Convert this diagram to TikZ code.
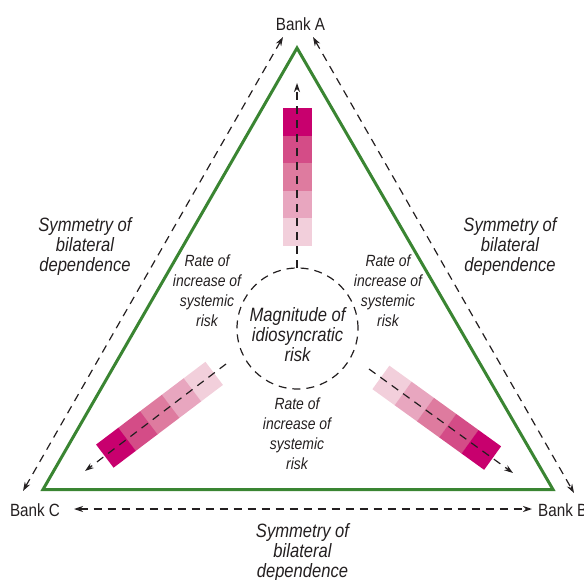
\documentclass[tikz,border=0pt]{standalone}
\usepackage{fontspec}
\setmainfont{Liberation Sans}[FakeStretch=0.86]
\usetikzlibrary{arrows.meta}
\definecolor{tri}{HTML}{3A8532}
\definecolor{ink}{HTML}{231F20}
\definecolor{cA}{HTML}{C8006E}
\definecolor{cB}{HTML}{D44C87}
\definecolor{cC}{HTML}{DE7B9F}
\definecolor{cD}{HTML}{E8A6BF}
\definecolor{cE}{HTML}{F2CFDB}
\tikzset{
  dasharrow/.style={draw=ink, line width=1.2pt, dash pattern=on 8pt off 6pt,
    {Stealth[length=9pt,width=6pt]}-{Stealth[length=9pt,width=6pt]}},
  inarrow/.style={draw=ink, line width=1.2pt, dash pattern=on 8pt off 6pt,
    -{Stealth[length=9pt,width=6pt]}},
  seg/.style={rectangle, inner sep=0pt, minimum width=27.8pt, minimum height=29pt, sloped},
  bank/.style={font=\fontsize{17.7}{20}\selectfont, text=ink, inner sep=0pt, anchor=base},
  small/.style={font=\itshape\fontsize{16.2}{20}\selectfont, text=ink, align=center, inner sep=0pt},
  big/.style={font=\itshape\fontsize{19.3}{20}\selectfont, text=ink, align=center, inner sep=0pt},
}
\begin{document}
\begin{tikzpicture}[x=1pt,y=-1pt]
\useasboundingbox (0,0) rectangle (584,580);
% triangle
\coordinate (A) at (297,48);
\coordinate (C) at (43,489.5);
\coordinate (B) at (553,489.5);
\draw[tri, line width=3pt, line join=miter] (A) -- (B) -- (C) -- cycle;
% bars
\coordinate (tN) at (297,246);   \coordinate (tF) at (297,108);
\coordinate (lN) at (214,373.5); \coordinate (lF) at (105,456);
\coordinate (rN) at (381,377.5); \coordinate (rF) at (492.5,458);
\foreach \n/\f in {tN/tF,lN/lF,rN/rF}{
  \path (\n) -- (\f)
    node[seg, fill=cE, pos=0.1] (\n1) {}
    node[seg, fill=cD, pos=0.3] (\n2) {}
    node[seg, fill=cC, pos=0.5] (\n3) {}
    node[seg, fill=cB, pos=0.7] (\n4) {}
    node[seg, fill=cA, pos=0.9] (\n5) {};
}
% circle
\node[circle, draw=ink, line width=1.2pt, dash pattern=on 8pt off 6pt,
  minimum size=121pt, inner sep=0pt] (circ) at (297.5,328.5) {};
% labels
\node[bank] (bankA) at (300.5,31) {Bank A};
\node[bank] (bankC) at (35,516) {Bank C};
\node[bank, anchor=base west] (bankB) at (538,516) {Bank B};
\node[big] (mag) at (297.5,334.6) {Magnitude of\\idiosyncratic\\risk};
\node[big] (symL) at (85,247) {Symmetry of\\bilateral\\dependence};
\node[big] (symR) at (510,247) {Symmetry of\\bilateral\\dependence};
\node[big] (symB) at (302.5,553) {Symmetry of\\bilateral\\dependence};
\node[small] (rateL) at (207,290.5) {Rate of\\increase of\\systemic\\risk};
\node[small] (rateR) at (388,290.5) {Rate of\\increase of\\systemic\\risk};
\node[small] (rateB) at (297,433.8) {Rate of\\increase of\\systemic\\risk};
% outer arrows
\coordinate (oL1) at (283,37);  \coordinate (oL2) at (23,491);
\coordinate (oR1) at (313,37);  \coordinate (oR2) at (574,493);
\coordinate (oB1) at (74,509);  \coordinate (oB2) at (532,509);
\draw[dasharrow] (oL1) -- (oL2);
\draw[dasharrow] (oR1) -- (oR2);
\draw[dasharrow] (oB1) -- (oB2);
% inner arrows
\coordinate (iT1) at (297,268); \coordinate (iT2) at (297,83);
\coordinate (iL1) at (226,364); \coordinate (iL2) at (85,471);
\coordinate (iR1) at (369,369); \coordinate (iR2) at (513,473);
\draw[inarrow] (iT1) -- (iT2);
\draw[inarrow] (iL1) -- (iL2);
\draw[inarrow] (iR1) -- (iR2);
\end{tikzpicture}
\end{document}
